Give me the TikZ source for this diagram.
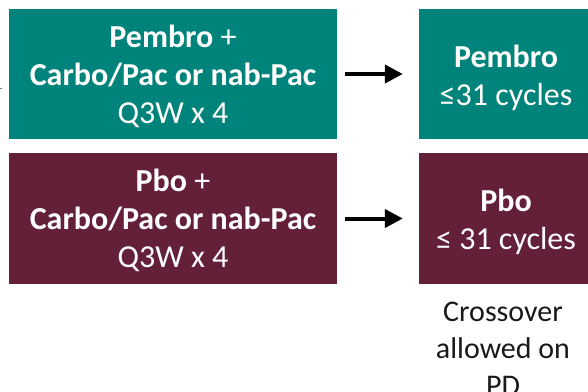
\documentclass[tikz,border=0pt]{standalone}
\usepackage{fontspec}
\setmainfont{Carlito}
\usetikzlibrary{arrows.meta}
\definecolor{armteal}{RGB}{0,131,122}
\definecolor{armmaroon}{RGB}{101,32,57}
\tikzset{
  armbox/.style={draw=none, inner sep=0pt},
  armtext/.style={inner sep=0pt, text=white, align=center,
    font=\fontsize{32}{38}\selectfont},
  flowarrow/.style={line width=4pt, -{Triangle[length=18pt,width=18pt]}},
  notetext/.style={inner sep=0pt, align=center, text=black!90,
    font=\fontsize{30}{37}\selectfont}
}
\begin{document}
\begin{tikzpicture}[x=1pt,y=-1pt]
\useasboundingbox (0,0) rectangle (588,391);
% faint stub at the left margin
\coordinate (stubA) at (-3,88);
\coordinate (stubB) at (2,88);
\draw[gray, line width=0.8pt] (stubA) -- (stubB);
% induction boxes
\node[armbox, fill=armteal, minimum width=328pt, minimum height=130pt]
  (indA) at (173,74) {};
\node[armtext] (indAtxt) at ([yshift=-2pt]indA.center)
  {\textbf{Pembro} +\\\textbf{Carbo/Pac or nab-Pac}\\Q3W x 4};
\node[armbox, fill=armmaroon, minimum width=328pt, minimum height=131pt]
  (indB) at (173,218.5) {};
\node[armtext] (indBtxt) at ([yshift=-2pt]indB.center)
  {\textbf{Pbo} +\\\textbf{Carbo/Pac or nab-Pac}\\Q3W x 4};
% maintenance boxes
\node[armbox, fill=armteal, minimum width=174pt, minimum height=130pt]
  (mainA) at (506,74) {};
\node[armtext] (mainAtxt) at ([yshift=-3.5pt]mainA.center)
  {\textbf{Pembro}\\≤31 cycles};
\node[armbox, fill=armmaroon, minimum width=174pt, minimum height=131pt]
  (mainB) at (506,218.5) {};
\node[armtext] (mainBtxt) at ([yshift=-3.5pt]mainB.center)
  {\textbf{Pbo}\\≤ 31 cycles};
% arrows
\draw[flowarrow, shorten <=8pt, shorten >=16pt] (indA) -- (mainA);
\draw[flowarrow, shorten <=8pt, shorten >=16pt] (indB) -- (mainB);
% note under the placebo arm
\node[notetext, anchor=north] (note) at (503,301.5) {Crossover\\allowed on\\PD};
\end{tikzpicture}
\end{document}
